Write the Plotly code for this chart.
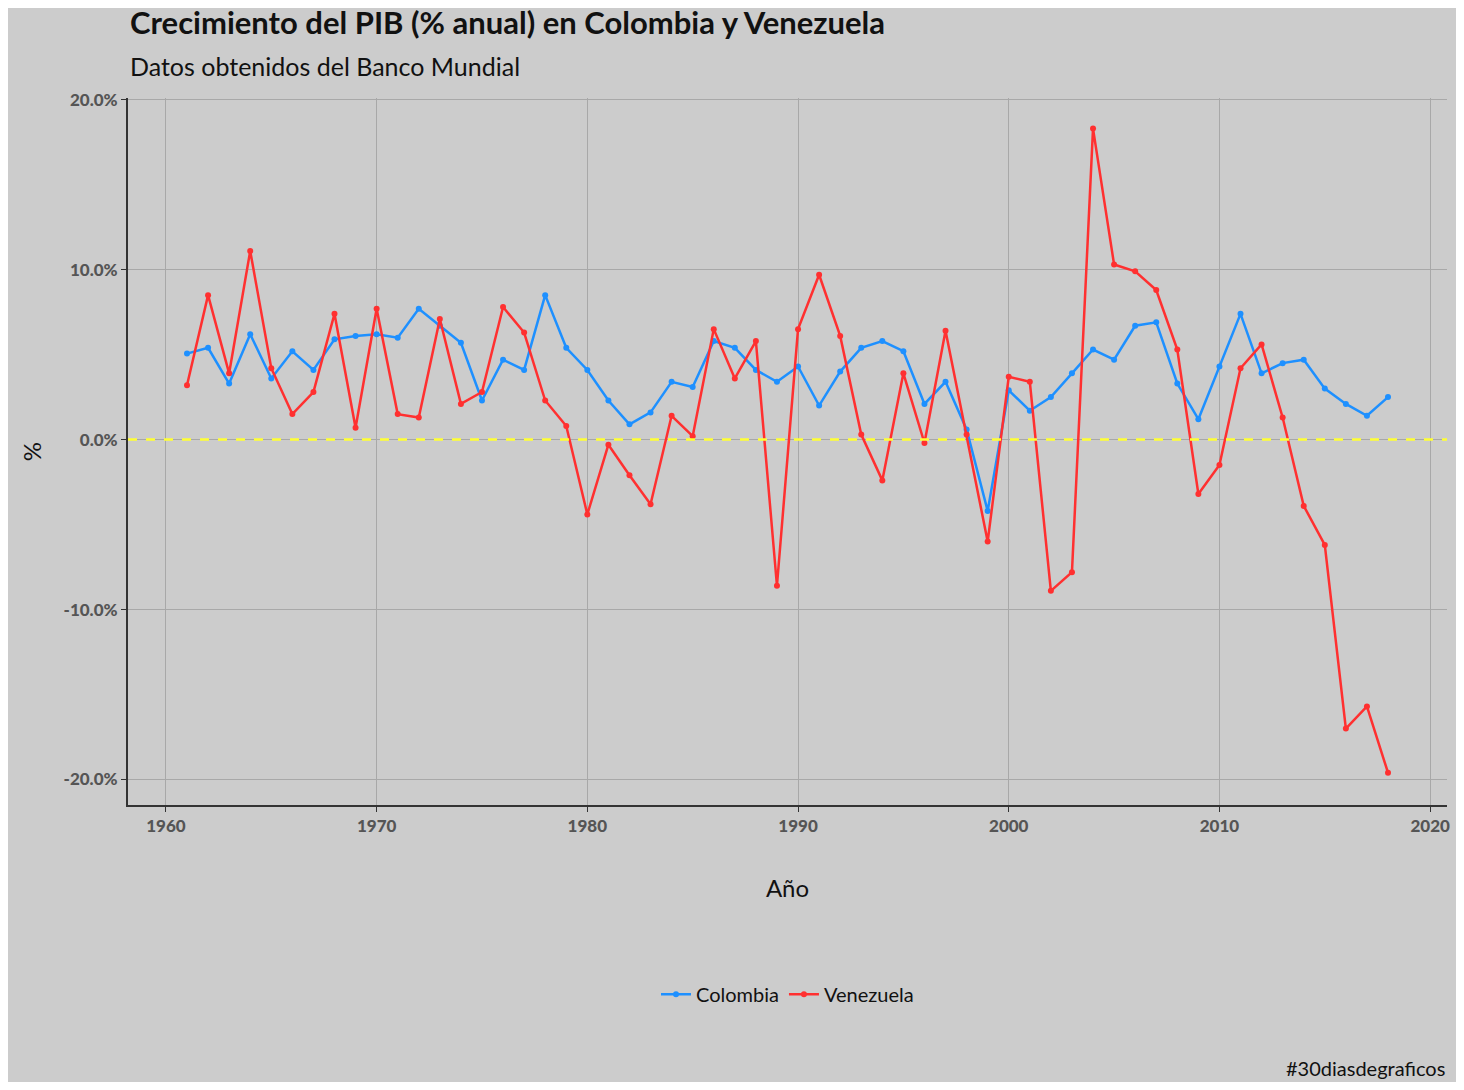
import plotly.graph_objects as go

years = list(range(1961, 2019))
colombia = [5.06,5.4,3.3,6.2,3.6,5.2,4.1,5.9,6.1,6.2,6.0,7.7,6.7,5.7,2.3,4.7,4.1,8.5,5.4,4.1,
            2.3,0.9,1.6,3.4,3.1,5.8,5.4,4.1,3.4,4.3,2.0,4.0,5.4,5.8,5.2,2.1,3.4,0.6,-4.2,2.9,
            1.7,2.5,3.9,5.3,4.7,6.7,6.9,3.3,1.2,4.3,7.4,3.9,4.5,4.7,3.0,2.1,1.4,2.5]
venezuela = [3.2,8.5,3.9,11.1,4.2,1.5,2.8,7.4,0.7,7.7,1.5,1.3,7.1,2.1,2.8,7.8,6.3,2.3,0.8,-4.4,
             -0.3,-2.1,-3.8,1.4,0.2,6.5,3.6,5.8,-8.6,6.5,9.7,6.1,0.3,-2.4,3.9,-0.2,6.4,0.3,-6.0,3.7,
             3.4,-8.9,-7.8,18.3,10.3,9.9,8.8,5.3,-3.2,-1.5,4.2,5.6,1.3,-3.9,-6.2,-17.0,-15.7,-19.6]
x_ticks = [1960,1970,1980,1990,2000,2010,2020]
y_ticks = [-20,-10,0,10,20]

font = "Lato"
fig = go.Figure()
for name, vals, col in [("Colombia", colombia, "#1e90ff"), ("Venezuela", venezuela, "#ff3030")]:
    fig.add_trace(go.Scatter(x=years, y=vals, name=name, mode="lines+markers",
                             line=dict(color=col, width=2.5), marker=dict(size=6, color=col)))
fig.add_hline(y=0, line=dict(color="#ffff33", width=2.5, dash="dash"))

fig.update_layout(
    width=1448, height=1074, paper_bgcolor="#cccccc", plot_bgcolor="#cccccc",
    margin=dict(l=120, r=6, t=90, b=277), font=dict(family=font, color="#111"),
    showlegend=True,
    legend=dict(orientation="h", x=0.5, xanchor="center", y=-0.24, yanchor="top",
                font=dict(size=20), bgcolor="rgba(0,0,0,0)"),
    xaxis=dict(range=[1958.2, 2020.8], tickvals=x_ticks, showgrid=True, gridcolor="#a8a8a8",
               gridwidth=1, zeroline=False, showline=True, linecolor="#333", linewidth=2,
               ticks="outside", tickcolor="#333", ticklen=5,
               tickfont=dict(size=17, color="#555", family=font + " Black"),
               title=dict(text="Año", font=dict(size=24), standoff=45)),
    yaxis=dict(range=[-21.5, 20.1], tickvals=y_ticks, ticktext=[f"{v:.1f}%" for v in y_ticks],
               showgrid=True, gridcolor="#a8a8a8", zeroline=False, showline=True,
               linecolor="#333", linewidth=2, ticks="outside", tickcolor="#333", ticklen=5,
               tickfont=dict(size=17, color="#555", family=font + " Black"),
               title=dict(text="%", font=dict(size=24), standoff=15)),
    annotations=[
        dict(text="<b>Crecimiento del PIB (% anual) en Colombia y Venezuela</b>", xref="paper", yref="paper",
             x=0, y=1, yshift=76, xanchor="left", yanchor="middle", showarrow=False,
             font=dict(size=31)),
        dict(text="Datos obtenidos del Banco Mundial", xref="paper", yref="paper",
             x=0, y=1, yshift=32, xanchor="left", yanchor="middle", showarrow=False,
             font=dict(size=25)),
        dict(text="#30diasdegraficos", xref="paper", yref="paper", x=1, y=0, yshift=-263,
             xanchor="right", yanchor="middle", showarrow=False, font=dict(size=20)),
    ],
)
fig.write_html("out.html")
